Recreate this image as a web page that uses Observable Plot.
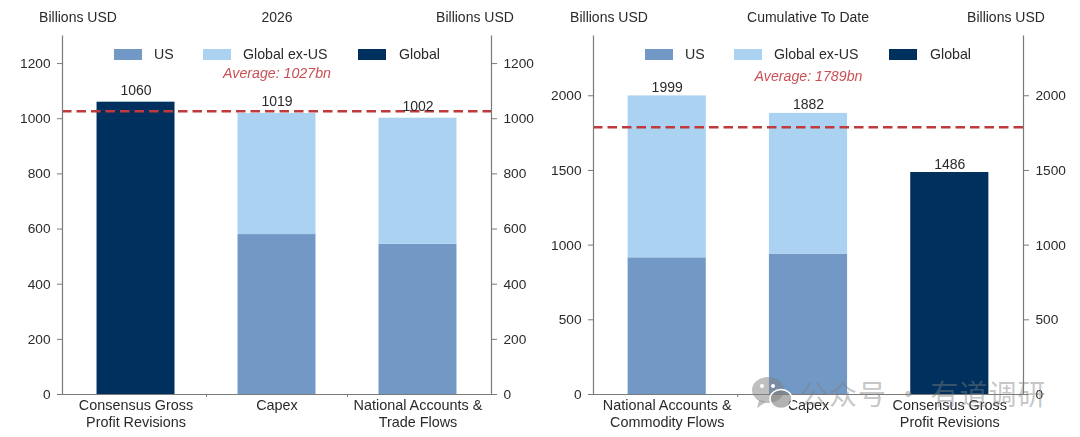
<!DOCTYPE html>
<html>
<head>
<meta charset="utf-8">
<script src="https://cdn.jsdelivr.net/npm/d3@7"></script>
<script src="https://cdn.jsdelivr.net/npm/@observablehq/plot@0.6"></script>
<style>
html,body{margin:0;padding:0;background:#fff;overflow:hidden}
body{width:1080px;height:437px;position:relative;font-family:"Liberation Sans",Arial,sans-serif;color:#2a2a2a}
#chart{filter:blur(0.3px)}
.panel{position:absolute;top:0;width:540px;height:437px}
.panel svg{position:absolute;left:0;top:0;background:transparent}
.head{position:absolute;top:9px;font-size:14px;line-height:16px;transform:translateX(-50%);white-space:nowrap}
.legend{position:absolute;top:46px;left:0;font-size:14.2px;line-height:16px}
.legend i{position:absolute;top:2.5px;width:28px;height:11px}
.legend span{position:absolute;top:0;white-space:nowrap}
.wm{position:absolute;left:800px;top:375px;font:28px/36px "Noto Sans CJK SC";color:rgba(128,128,128,.45);white-space:pre;letter-spacing:1px}
.wmi{position:absolute;left:751px;top:376px}
</style>
</head>
<body>
<div id="chart"></div>
<script>
const seriesNames = ["US", "Global ex-US", "Global"];
const seriesColors = ["#7298c6", "#abd2f0", "#00305d"];

const leftTitle = "2026";
const leftCats = ["Consensus Gross\nProfit Revisions", "Capex", "National Accounts &\nTrade Flows"];
const leftUS = [0, 580, 545];
const leftExUS = [0, 439, 457];
const leftGlobal = [1060, 0, 0];
const leftTotals = [1060, 1019, 1002];
const leftAverage = 1027;
const leftAvgText = "Average: 1027bn";
const leftTicks = [0, 200, 400, 600, 800, 1000, 1200];

const rightTitle = "Cumulative To Date";
const rightCats = ["National Accounts &\nCommodity Flows", "Capex", "Consensus Gross\nProfit Revisions"];
const rightUS = [915, 940, 0];
const rightExUS = [1084, 942, 0];
const rightGlobal = [0, 0, 1486];
const rightTotals = [1999, 1882, 1486];
const rightAverage = 1789;
const rightAvgText = "Average: 1789bn";
const rightTicks = [0, 500, 1000, 1500, 2000];

const unitLabel = "Billions USD";
const ink = "#2a2a2a";
const axisGray = "#7a7a7a";
const avgColor = "#c0393b";
const avgTextColor = "#c94f54";

function panel({offset, title, cats, us, ex, glob, totals, avg, avgText, ticks, yMax, avgY, labelDy, marginRight, minorLen}) {
  const div = document.createElement("div");
  div.className = "panel";
  div.style.left = offset + "px";
  const rows = [];
  cats.forEach((c, i) => {
    [us[i], ex[i], glob[i]].forEach((v, j) => {
      if (v > 0) rows.push({cat: c, series: seriesNames[j], value: v});
    });
  });
  const tops = cats.map((c, i) => ({cat: c, total: totals[i]}));
  const plot = Plot.plot({
    width: 540, height: 437,
    marginLeft: 62, marginRight, marginTop: 35.5, marginBottom: 43,
    style: {background: "transparent", fontFamily: "'Liberation Sans',Arial,sans-serif", fontSize: "14px", color: ink},
    x: {domain: cats, paddingInner: 0.447, paddingOuter: 0.245, round: false, label: null},
    y: {domain: [0, yMax], label: null},
    color: {domain: seriesNames, range: seriesColors},
    marks: [
      Plot.barY(rows, {x: "cat", y: "value", fill: "series", order: seriesNames}),
      Plot.ruleY([avg], {stroke: avgColor, strokeWidth: 2.4, strokeDasharray: "9.5,5"}),
      Plot.text(tops, {x: "cat", y: "total", text: d => String(d.total), dy: labelDy, fontSize: 14, fill: ink, lineAnchor: "bottom"}),
      Plot.text([avgText], {x: () => cats[1], y: () => avgY, text: d => d, fill: avgTextColor, fontSize: 14.2, fontStyle: "italic"}),
      Plot.ruleX(cats.slice(0, 2), {x: d => d, y1: 0, y2: minorLen, dx: 70.5, stroke: axisGray, strokeWidth: 1}),
      Plot.frame({anchor: "left", stroke: axisGray, strokeWidth: 1.2}),
      Plot.frame({anchor: "right", stroke: axisGray, strokeWidth: 1.2}),
      Plot.frame({anchor: "bottom", stroke: axisGray, strokeWidth: 1.2}),
      Plot.axisY({anchor: "left", ticks, tickFormat: d3.format("d"), tickSize: 5, tickPadding: 7, label: null, stroke: axisGray, fill: ink, fontSize: 13.7}),
      Plot.axisY({anchor: "right", ticks, tickFormat: d3.format("d"), tickSize: 5, tickPadding: 7, label: null, stroke: axisGray, fill: ink, fontSize: 13.7}),
      Plot.axisX({tickSize: 0, tickPadding: 3, label: null, fill: ink, fontSize: 14.4, lineHeight: 1.18, lineAnchor: "top"})
    ]
  });
  div.appendChild(plot);
  const heads = [[78, unitLabel], [277, title], [475, unitLabel]];
  heads.forEach(([x, t]) => {
    const h = document.createElement("div");
    h.className = "head"; h.style.left = x + "px"; h.textContent = t;
    div.appendChild(h);
  });
  const lg = document.createElement("div");
  lg.className = "legend";
  const swatchX = [114, 203, 358];
  const labelX = [154, 243, 399];
  seriesNames.forEach((s, i) => {
    const sw = document.createElement("i");
    sw.style.left = swatchX[i] + "px"; sw.style.background = seriesColors[i];
    const t = document.createElement("span");
    t.style.left = labelX[i] + "px"; t.textContent = s;
    lg.append(sw, t);
  });
  div.appendChild(lg);
  return div;
}

const root = document.getElementById("chart");
root.appendChild(panel({offset: 0, title: leftTitle, cats: leftCats, us: leftUS, ex: leftExUS, glob: leftGlobal, totals: leftTotals, avg: leftAverage, avgText: leftAvgText, ticks: leftTicks, yMax: 1300, avgY: 1163, labelDy: -7, marginRight: 49, minorLen: -11}));
root.appendChild(panel({offset: 531, title: rightTitle, cats: rightCats, us: rightUS, ex: rightExUS, glob: rightGlobal, totals: rightTotals, avg: rightAverage, avgText: rightAvgText, ticks: rightTicks, yMax: 2400, avgY: 2127, labelDy: -4, marginRight: 48, minorLen: -20}));

const wmIcon = document.createElement("div");
wmIcon.className = "wmi";
wmIcon.innerHTML = '<svg width="44" height="46"><ellipse cx="17" cy="14" rx="16" ry="13" fill="rgba(128,128,128,.5)"/><path d="M8 24 L6 32 L15 26 Z" fill="rgba(128,128,128,.5)"/><ellipse cx="30" cy="23" rx="11" ry="9.5" fill="rgba(128,128,128,.6)" stroke="#fff" stroke-width="1.5"/><circle cx="11" cy="10" r="2" fill="#fff"/><circle cx="22" cy="10" r="2" fill="#fff"/></svg>';
document.body.appendChild(wmIcon);
const wm = document.createElement("div");
wm.className = "wm";
wm.textContent = "公众号 · 有道调研";
document.body.appendChild(wm);
</script>
</body>
</html>
